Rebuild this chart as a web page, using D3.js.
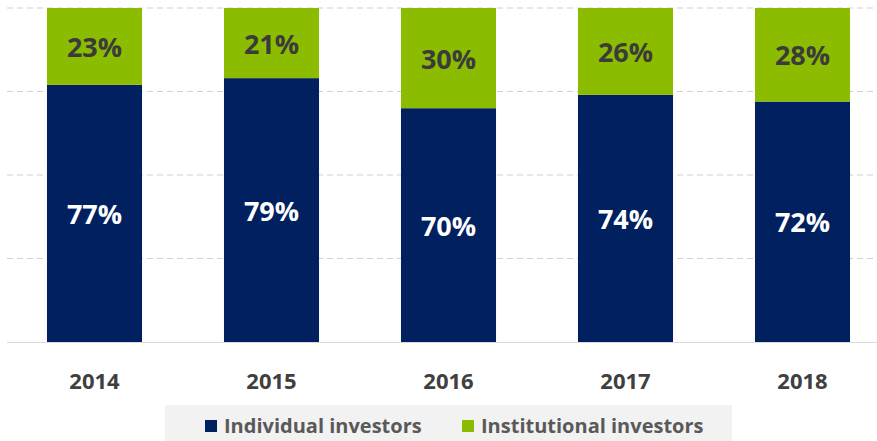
<!DOCTYPE html>
<html><head><meta charset="utf-8">
<script src="https://cdn.jsdelivr.net/npm/d3@7"></script>
<style>body{margin:0;background:#fff;} svg{display:block;}</style>
</head><body>
<svg id="c" width="877" height="441"></svg>
<script>
const years = ["2014","2015","2016","2017","2018"];
const individual = [77,79,70,74,72];
const institutional = [23,21,30,26,28];
const gridTicks = [0,25,50,75,100];
const seriesNames = ["Individual investors","Institutional investors"];
const colors = ["#00205f","#8cbc00"];

(function(){
const svg = d3.select("#c");
const plotTop = 8, plotBottom = 342;
const x = d3.scaleBand().domain(years).range([6, 891]).paddingInner(0.463).paddingOuter(0.2315);
const y = d3.scaleLinear().domain([0,100]).range([plotBottom, plotTop]);
const font = "'Open Sans', sans-serif";

svg.append("g").selectAll("line").data(gridTicks.filter(d=>d>0)).join("line")
  .attr("x1",7).attr("x2",877).attr("y1",d=>y(d)).attr("y2",d=>y(d))
  .attr("stroke","#d0d0d0").attr("stroke-width",1).attr("stroke-dasharray","6,4");

const data = years.map((yr,i)=>({year:yr, ind:individual[i], inst:institutional[i]}));

svg.append("g").selectAll("rect").data(data).join("rect")
  .attr("x",d=>x(d.year)).attr("width",x.bandwidth())
  .attr("y",d=>y(d.ind)).attr("height",d=>y(0)-y(d.ind)).attr("fill",colors[0]);
svg.append("g").selectAll("rect").data(data).join("rect")
  .attr("x",d=>x(d.year)).attr("width",x.bandwidth())
  .attr("y",d=>y(d.ind+d.inst)).attr("height",d=>y(d.ind)-y(d.ind+d.inst)).attr("fill",colors[1]);

svg.append("line").attr("x1",7).attr("x2",877).attr("y1",y(0)+0.5).attr("y2",y(0)+0.5)
  .attr("stroke","#d9d9d9").attr("stroke-width",1.2);

svg.append("g").selectAll("text").data(data).join("text")
  .attr("x",d=>x(d.year)+x.bandwidth()/2).attr("y",d=>(y(0)+y(d.ind))/2)
  .attr("text-anchor","middle").attr("dominant-baseline","central")
  .attr("font-family",font).attr("font-weight",700).attr("font-size",27)
  .attr("fill","#ffffff").text(d=>d.ind+"%");
svg.append("g").selectAll("text").data(data).join("text")
  .attr("x",d=>x(d.year)+x.bandwidth()/2).attr("y",d=>(y(d.ind)+y(d.ind+d.inst))/2)
  .attr("text-anchor","middle").attr("dominant-baseline","central")
  .attr("font-family",font).attr("font-weight",700).attr("font-size",27)
  .attr("fill","#3b3b3b").text(d=>d.inst+"%");

const xa = svg.append("g").attr("transform",`translate(0,${plotBottom})`)
  .call(d3.axisBottom(x).tickSize(0).tickPadding(0));
xa.select(".domain").remove();
xa.selectAll("text").attr("y",38).attr("dy",0).attr("dominant-baseline","central")
  .attr("font-family",font).attr("font-weight",700).attr("font-size",22).attr("fill","#404040");

const lg = svg.append("g");
lg.append("rect").attr("x",165).attr("y",405).attr("width",567).attr("height",40).attr("fill","#f2f2f2");
const items = [{name:seriesNames[0],c:colors[0],x:205},{name:seriesNames[1],c:colors[1],x:462}];
items.forEach(it=>{
  lg.append("rect").attr("x",it.x).attr("y",420).attr("width",12).attr("height",12).attr("fill",it.c);
  lg.append("text").attr("x",it.x+19).attr("y",425).attr("dominant-baseline","central")
    .attr("font-family",font).attr("font-weight",700).attr("font-size",20).attr("fill","#595959").text(it.name);
});
})();
</script>
</body></html>
